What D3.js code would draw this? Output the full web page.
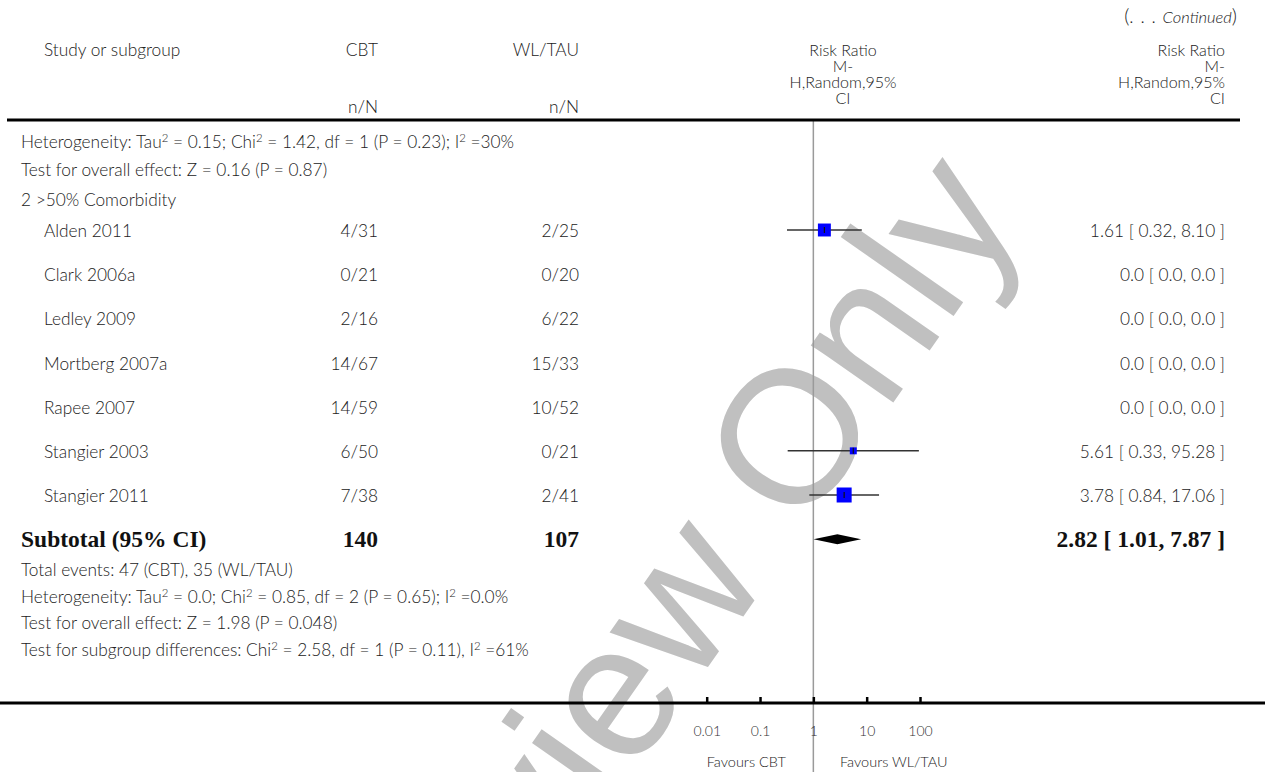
<!DOCTYPE html>
<html>
<head>
<meta charset="utf-8">
<script src="https://cdn.jsdelivr.net/npm/d3@7"></script>
<style>
  html, body { margin: 0; padding: 0; background: #fff; }
  svg { display: block; }
  .txt { font-family: Lato, "Open Sans", "DejaVu Sans", sans-serif; font-weight: 300; fill: #222; }
  .bold { font-family: "Liberation Serif", "DejaVu Serif", serif; font-weight: bold; fill: #111; }
</style>
</head>
<body>
<svg id="chart" width="1265" height="772"></svg>
<script>
// ---- data -------------------------------------------------------------
const studyNames = ["Alden 2011", "Clark 2006a", "Ledley 2009", "Mortberg 2007a",
                    "Rapee 2007", "Stangier 2003", "Stangier 2011"];
const cbtEvents = [4, 0, 2, 14, 14, 6, 7];
const cbtTotals = [31, 21, 16, 67, 59, 50, 38];
const wlEvents  = [2, 0, 6, 15, 10, 0, 2];
const wlTotals  = [25, 20, 22, 33, 52, 21, 41];
const riskRatio = [1.61, 0, 0, 0, 0, 5.61, 3.78];
const ciLower   = [0.32, 0, 0, 0, 0, 0.33, 0.84];
const ciUpper   = [8.10, 0, 0, 0, 0, 95.28, 17.06];
const studyWeight = [38, 0, 0, 0, 0, 11, 51];   // % weight, sets square size

const subtotalEstimate = [2.82, 1.01, 7.87];    // RR, lower, upper
const subtotalTotals = [140, 107];              // CBT, WL/TAU

const tickValues = [0.01, 0.1, 1, 10, 100];
const tickLabels = ["0.01", "0.1", "1", "10", "100"];

const notesAbove = [
  "Heterogeneity: Tau^2 = 0.15; Chi^2 = 1.42, df = 1 (P = 0.23); I^2 =30%",
  "Test for overall effect: Z = 0.16 (P = 0.87)"
];
const subgroupTitle = "2 >50% Comorbidity";
const notesBelow = [
  "Total events: 47 (CBT), 35 (WL/TAU)",
  "Heterogeneity: Tau^2 = 0.0; Chi^2 = 0.85, df = 2 (P = 0.65); I^2 =0.0%",
  "Test for overall effect: Z = 1.98 (P = 0.048)",
  "Test for subgroup differences: Chi^2 = 2.58, df = 1 (P = 0.11), I^2 =61%"
];
const effectHeader = ["Risk Ratio", "M-", "H,Random,95%", "CI"];

// ---- layout -------------------------------------------------------------
const W = 1265, H = 772;
const FS = 17.3;        // body text size
const svg = d3.select("#chart");

const x = d3.scaleLog().domain([0.01, 100]).range([706.7, 920]);
const yRow = d3.scaleLinear().domain([0, 6]).range([231, 496]);
const axisY = 703;
const colStudy = 44, colNote = 21, colCBT = 378, colWL = 579, colEffect = 1225, colHead = 843;

const fmt = v => v === 0 ? "0.0" : v.toFixed(2);
const ciText = (r, l, u) => `${fmt(r)} [ ${fmt(l)}, ${fmt(u)} ]`;

// watermark, drawn underneath the table
svg.append("text")
  .attr("transform", "translate(383,1131) rotate(-55)")
  .attr("font-family", "'Liberation Sans', Arial, sans-serif")
  .attr("font-size", 190)
  .attr("fill", "#c0c0c0")
  .text("Preview Only");

// text helper; "^2" becomes a raised small 2
function addText(g, str, xPos, yPos, opts = {}) {
  const size = opts.size || FS;
  const t = g.append("text")
    .attr("class", opts.cls || "txt")
    .attr("x", xPos).attr("y", yPos)
    .attr("dy", "0.35em")
    .attr("font-size", size)
    .attr("text-anchor", opts.anchor || "start");
  const parts = str.split("^2");
  parts.forEach((p, i) => {
    t.append("tspan").text(p).attr("dy", i === 0 ? null : 6);
    if (i < parts.length - 1) {
      t.append("tspan").text("2").attr("font-size", size * 0.66).attr("dy", -6);
    }
  });
  return t;
}

const g = svg.append("g");

// header
const cont = g.append("text").attr("class", "txt").attr("x", 1237).attr("y", 17)
  .attr("font-size", 17).attr("dy", "0.35em").attr("text-anchor", "end");
cont.append("tspan").text("(").attr("font-size", 20);
cont.append("tspan").text(". . .  ").attr("font-size", 18).attr("letter-spacing", 1);
cont.append("tspan").text("Continued").attr("font-size", 16.5).attr("font-style", "italic");
cont.append("tspan").text(")").attr("font-size", 20);

addText(g, "Study or subgroup", colStudy, 50);
addText(g, "CBT", colCBT, 50, {anchor: "end"});
addText(g, "WL/TAU", colWL, 50, {anchor: "end"});
addText(g, "n/N", colCBT, 107, {anchor: "end"});
addText(g, "n/N", colWL, 107, {anchor: "end"});
const headY = [50, 66, 82, 98];
effectHeader.forEach((s, i) => {
  addText(g, s, colHead, headY[i], {anchor: "middle", size: 16});
  addText(g, s, colEffect, headY[i], {anchor: "end", size: 16});
});

// reference line at RR = 1
g.append("line")
  .attr("x1", x(1)).attr("x2", x(1))
  .attr("y1", 120).attr("y2", H)
  .attr("stroke", "#9a9a9a").attr("stroke-width", 1.5);

// header rule
g.append("line").attr("x1", 7).attr("x2", 1240).attr("y1", 120).attr("y2", 120)
  .attr("stroke", "#000").attr("stroke-width", 3);

// notes and subgroup title
notesAbove.forEach((s, i) => addText(g, s, colNote, 142 + i * 28));
addText(g, subgroupTitle, colNote, 200);

// study rows
studyNames.forEach((name, i) => {
  const yy = yRow(i);
  addText(g, name, colStudy, yy);
  addText(g, `${cbtEvents[i]}/${cbtTotals[i]}`, colCBT, yy, {anchor: "end"});
  addText(g, `${wlEvents[i]}/${wlTotals[i]}`, colWL, yy, {anchor: "end"});
  addText(g, ciText(riskRatio[i], ciLower[i], ciUpper[i]), colEffect, yy, {anchor: "end"});
});

// study markers: CI whisker, weighted square, estimate tick
const sizeScale = d3.scaleSqrt().domain([0, 51]).range([0, 15]);
const marks = g.append("g");
studyNames.forEach((name, i) => {
  if (riskRatio[i] <= 0) return;
  const yy = yRow(i) - 1;
  marks.append("line")
    .attr("x1", x(ciLower[i])).attr("x2", x(ciUpper[i]))
    .attr("y1", yy).attr("y2", yy)
    .attr("stroke", "#333").attr("stroke-width", 1.5);
  const s = sizeScale(studyWeight[i]);
  marks.append("rect")
    .attr("x", x(riskRatio[i]) - s / 2).attr("y", yy - s / 2)
    .attr("width", s).attr("height", s)
    .attr("fill", "#0000ff");
  marks.append("line")
    .attr("x1", x(riskRatio[i])).attr("x2", x(riskRatio[i]))
    .attr("y1", yy - 3).attr("y2", yy + 3)
    .attr("stroke", "#111").attr("stroke-width", 1.2);
});

// subtotal row
const ySub = yRow(7) - 1;
const BS = 23.5;
addText(g, "Subtotal (95% CI)", colNote, ySub, {cls: "bold", size: BS});
addText(g, String(subtotalTotals[0]), colCBT, ySub, {cls: "bold", size: BS, anchor: "end"});
addText(g, String(subtotalTotals[1]), colWL, ySub, {cls: "bold", size: BS, anchor: "end"});
addText(g, ciText(...subtotalEstimate), colEffect, ySub, {cls: "bold", size: BS, anchor: "end"});
const [sr, sl, su] = subtotalEstimate;
g.append("path")
  .attr("d", d3.line()([[x(sl), ySub], [x(sr), ySub - 5], [x(su), ySub], [x(sr), ySub + 5]]) + "Z")
  .attr("fill", "#000");

notesBelow.forEach((s, i) => addText(g, s, colNote, 570 + i * 26.5));

// bottom axis
g.append("line").attr("x1", 0).attr("x2", W).attr("y1", axisY).attr("y2", axisY)
  .attr("stroke", "#000").attr("stroke-width", 3);
const axis = d3.axisBottom(x)
  .tickValues(tickValues)
  .tickFormat((d, i) => tickLabels[i])
  .tickSize(-6)
  .tickPadding(23);
const ax = g.append("g").attr("transform", `translate(0,${axisY})`).call(axis);
ax.select(".domain").remove();
ax.selectAll(".tick line").attr("stroke", "#000").attr("stroke-width", 2.5);
ax.selectAll(".tick text")
  .attr("font-family", "Lato, 'Open Sans', sans-serif")
  .attr("font-weight", 300)
  .attr("font-size", 14).attr("fill", "#333");

addText(g, "Favours CBT", 786, 762, {anchor: "end", size: 14.5});
addText(g, "Favours WL/TAU", 840, 762, {size: 14.5});
</script>
</body>
</html>
